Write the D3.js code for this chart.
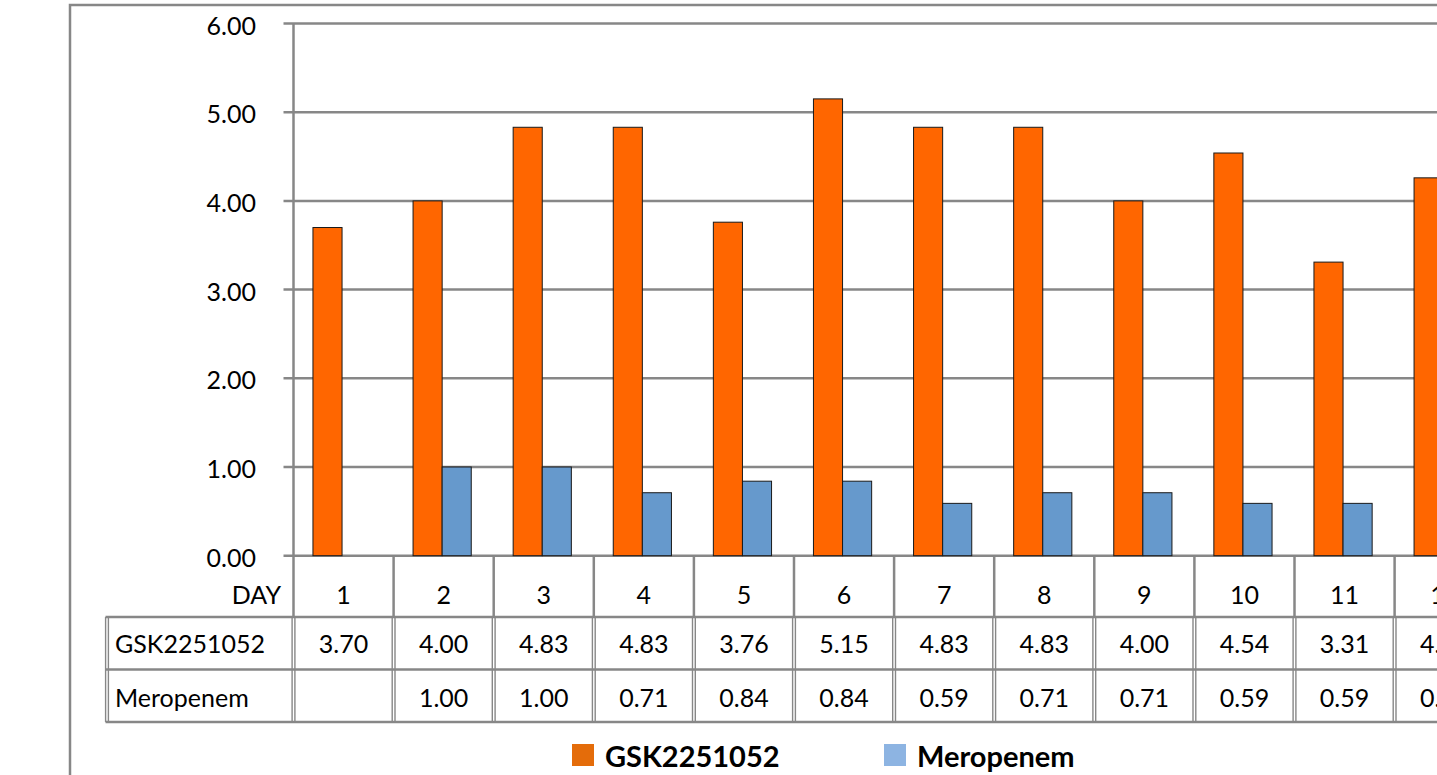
<!DOCTYPE html>
<html>
<head>
<meta charset="utf-8">
<script src="https://cdn.jsdelivr.net/npm/d3@7"></script>
<style>
  html, body { margin: 0; padding: 0; background: #fff; overflow: hidden; }
  svg { display: block; font-family: Lato, "Open Sans", sans-serif; }
</style>
</head>
<body>
<svg id="chart" width="1437" height="775"></svg>
<script>
// Daily values for the two compounds
const days = ["1", "2", "3", "4", "5", "6", "7", "8", "9", "10", "11", "12"];
const gskValues = [3.70, 4.00, 4.83, 4.83, 3.76, 5.15, 4.83, 4.83, 4.00, 4.54, 3.31, 4.26];
const meropenemValues = [null, 1.00, 1.00, 0.71, 0.84, 0.84, 0.59, 0.71, 0.71, 0.59, 0.59, 0.59];
const seriesNames = ["GSK2251052", "Meropenem"];
const yTicks = [0, 1, 2, 3, 4, 5, 6];

const barColors = { "GSK2251052": "#FF6600", "Meropenem": "#6699CC" };
const legendColors = { "GSK2251052": "#E46C0A", "Meropenem": "#8DB4E2" };
const gridColor = "#878787";
const fontSize = 25;

const svg = d3.select("#chart");

// Frame around the whole chart
svg.append("rect")
  .attr("x", 70).attr("y", 5)
  .attr("width", 1500).attr("height", 900)
  .attr("fill", "none").attr("stroke", gridColor).attr("stroke-width", 2.5);

const plotLeft = 293.5, plotTop = 23.5, plotBottom = 555.7;
const step = 100.1;

const x = d3.scaleBand().domain(days).range([plotLeft, plotLeft + step * days.length]).padding(0);
const sub = d3.scaleBand().domain(seriesNames).range([0, x.bandwidth()]).paddingInner(0).paddingOuter(0.72);
const y = d3.scaleLinear().domain([0, 6]).range([plotBottom, plotTop]);

// Horizontal gridlines with tick stubs
svg.append("g").selectAll("line").data(yTicks).join("line")
  .attr("x1", plotLeft - 10).attr("x2", 1500)
  .attr("y1", d => y(d)).attr("y2", d => y(d))
  .attr("stroke", gridColor).attr("stroke-width", 2.5);

// Y tick labels
svg.append("g").selectAll("text").data(yTicks).join("text")
  .attr("x", 256).attr("y", d => y(d) + 1)
  .attr("text-anchor", "end").attr("dominant-baseline", "central")
  .attr("font-size", fontSize).attr("fill", "#000")
  .text(d => d3.format(".2f")(d));

// Bars
const rows = days.map((d, i) => ({ day: d, "GSK2251052": gskValues[i], "Meropenem": meropenemValues[i] }));
const barG = svg.append("g");
rows.forEach(r => {
  seriesNames.forEach(s => {
    const v = r[s];
    if (v == null) return;
    barG.append("rect")
      .attr("x", x(r.day) + sub(s) - 1.5)
      .attr("y", y(v))
      .attr("width", sub.bandwidth())
      .attr("height", y(0) - y(v))
      .attr("fill", barColors[s])
      .attr("stroke", "#1a1a1a").attr("stroke-width", 1);
  });
});

// Y axis line runs down to the data table
const tableTop = 617, rowMid = 669.5, tableBottom = 722, tableLeft = 107;
svg.append("line")
  .attr("x1", plotLeft).attr("x2", plotLeft)
  .attr("y1", plotTop).attr("y2", tableTop)
  .attr("stroke", gridColor).attr("stroke-width", 2.5);

// Data table: day header row separators
const boundaries = days.map(d => x(d)).concat([x(days[days.length - 1]) + step]);
svg.append("g").selectAll("line").data(boundaries.slice(1)).join("line")
  .attr("x1", d => d).attr("x2", d => d)
  .attr("y1", plotBottom).attr("y2", tableTop)
  .attr("stroke", gridColor).attr("stroke-width", 2.5);

// Double vertical rules in value rows
const dbl = svg.append("g");
boundaries.concat([tableLeft]).forEach(b => {
  [-1.4, 1.4].forEach(off => {
    dbl.append("line")
      .attr("x1", b + off).attr("x2", b + off)
      .attr("y1", tableTop).attr("y2", tableBottom)
      .attr("stroke", gridColor).attr("stroke-width", 1.4);
  });
});

// Horizontal table rules
svg.append("g").selectAll("line").data([tableTop, rowMid, tableBottom]).join("line")
  .attr("x1", tableLeft - 1.5).attr("x2", 1500)
  .attr("y1", d => d).attr("y2", d => d)
  .attr("stroke", gridColor).attr("stroke-width", 2.5);

// Header row text
svg.append("text")
  .attr("x", 281).attr("y", 594)
  .attr("text-anchor", "end").attr("dominant-baseline", "central")
  .attr("font-size", fontSize).text("DAY");
svg.append("g").selectAll("text").data(days).join("text")
  .attr("x", d => x(d) + x.bandwidth() / 2).attr("y", 594)
  .attr("text-anchor", "middle").attr("dominant-baseline", "central")
  .attr("font-size", fontSize).text(d => d);

// Value rows
const tableRows = [
  { name: "GSK2251052", values: gskValues, cy: 643 },
  { name: "Meropenem", values: meropenemValues, cy: 697 }
];
tableRows.forEach(tr => {
  svg.append("text")
    .attr("x", 115).attr("y", tr.cy)
    .attr("dominant-baseline", "central")
    .attr("font-size", fontSize).text(tr.name);
  svg.append("g").selectAll("text").data(days).join("text")
    .attr("x", d => x(d) + x.bandwidth() / 2).attr("y", tr.cy)
    .attr("text-anchor", "middle").attr("dominant-baseline", "central")
    .attr("font-size", fontSize)
    .text((d, i) => tr.values[i] == null ? "" : tr.values[i].toFixed(2));
});

// Legend
const legendItems = [
  { name: "GSK2251052", x: 572 },
  { name: "Meropenem", x: 884 }
];
const lg = svg.append("g");
legendItems.forEach(item => {
  lg.append("rect")
    .attr("x", item.x).attr("y", 744)
    .attr("width", 22).attr("height", 22)
    .attr("fill", legendColors[item.name]);
  lg.append("text")
    .attr("x", item.x + 33).attr("y", 755)
    .attr("dominant-baseline", "central")
    .attr("font-size", 29).attr("font-weight", "bold")
    .text(item.name);
});
</script>
</body>
</html>
